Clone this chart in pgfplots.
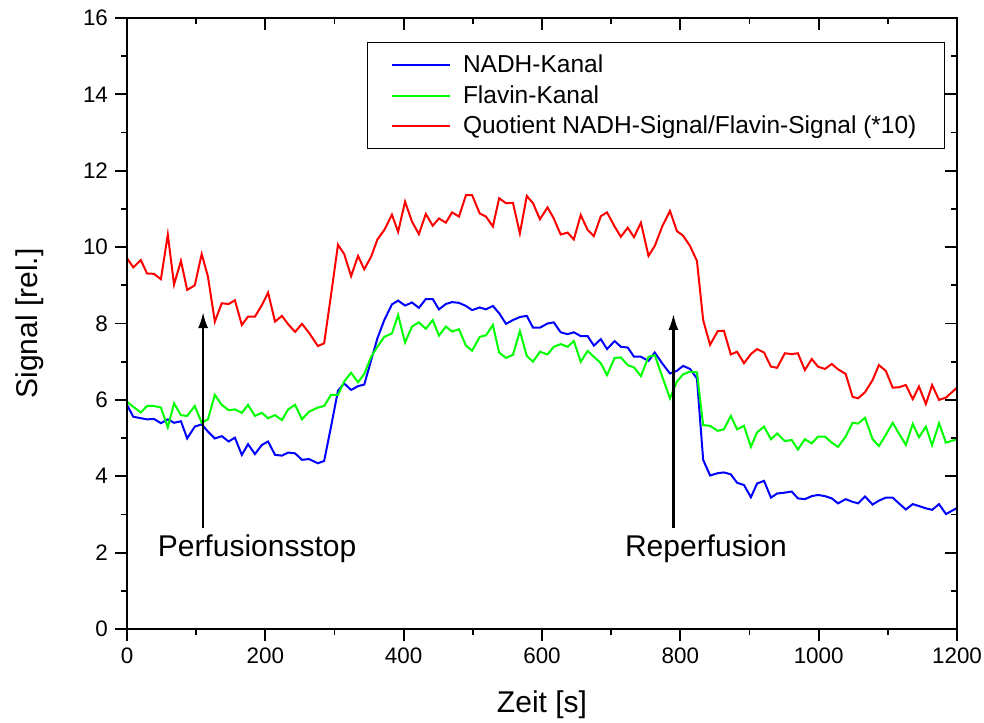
\documentclass[border=0pt]{standalone}
\usepackage{fontspec}
\setmainfont{Liberation Sans}
\usepackage{pgfplots}
\pgfplotsset{compat=1.18}
\usepackage{pgfplotstable}
\usetikzlibrary{arrows.meta}

\pgfplotstableread{
t v
0 5.87
9 5.56
20 5.52
29 5.49
39 5.50
49 5.39
59 5.49
68 5.40
78 5.44
87 4.99
98 5.30
108 5.36
117 5.17
127 4.99
137 5.05
147 4.91
156 5.01
166 4.56
175 4.84
185 4.58
195 4.82
204 4.91
214 4.56
224 4.54
233 4.62
243 4.60
253 4.43
263 4.45
276 4.34
285 4.40
295 5.30
305 6.24
314 6.43
324 6.26
334 6.36
343 6.40
353 7.04
362 7.61
372 8.09
383 8.50
392 8.60
402 8.47
412 8.55
422 8.41
432 8.64
442 8.64
451 8.37
461 8.51
470 8.56
480 8.54
490 8.46
499 8.35
510 8.42
519 8.37
529 8.46
538 8.27
548 7.99
558 8.09
568 8.17
578 8.20
587 7.89
597 7.89
608 8.00
617 8.03
627 7.77
637 7.72
646 7.77
656 7.67
666 7.67
675 7.42
685 7.59
694 7.33
705 7.54
714 7.39
724 7.37
733 7.13
743 7.13
754 7.02
763 7.24
774 6.95
785 6.69
795 6.76
804 6.89
814 6.81
824 6.56
833 4.43
843 4.02
854 4.08
863 4.10
873 4.05
882 3.83
892 3.77
902 3.45
911 3.81
921 3.88
931 3.44
940 3.55
951 3.57
961 3.60
970 3.42
980 3.40
990 3.48
999 3.51
1009 3.48
1019 3.42
1028 3.29
1039 3.40
1049 3.33
1057 3.29
1067 3.47
1078 3.26
1087 3.36
1097 3.44
1107 3.44
1116 3.29
1126 3.13
1136 3.27
1145 3.22
1155 3.16
1164 3.12
1174 3.27
1184 3.01
1200 3.17
}\nadh

\pgfplotstableread{
t v
0 5.95
9 5.82
20 5.67
29 5.84
39 5.84
49 5.80
59 5.28
68 5.91
78 5.60
87 5.58
98 5.84
108 5.40
117 5.49
127 6.13
137 5.87
147 5.73
156 5.75
166 5.66
175 5.87
185 5.58
195 5.66
204 5.52
214 5.60
224 5.47
233 5.75
243 5.87
253 5.49
263 5.69
276 5.80
285 5.84
295 6.13
305 6.13
314 6.48
324 6.71
334 6.46
343 6.68
353 7.13
362 7.39
372 7.65
383 7.74
392 8.22
402 7.50
412 7.92
422 8.03
432 7.86
442 8.09
451 7.68
461 7.92
470 7.79
480 7.85
490 7.42
499 7.29
510 7.65
519 7.69
529 7.96
538 7.24
548 7.10
558 7.18
568 7.80
578 7.15
587 7.00
597 7.26
608 7.19
617 7.39
627 7.46
637 7.39
646 7.54
656 7.00
666 7.28
675 7.13
685 6.96
694 6.65
705 7.10
714 7.11
724 6.91
733 6.85
743 6.62
754 7.13
763 7.17
774 6.60
785 6.04
795 6.48
804 6.67
814 6.74
824 6.72
833 5.34
843 5.32
854 5.19
863 5.23
873 5.58
882 5.23
892 5.32
902 4.77
911 5.15
921 5.30
931 4.97
940 5.12
951 4.92
961 4.95
970 4.70
980 4.97
990 4.86
999 5.04
1009 5.04
1019 4.88
1028 4.77
1039 5.04
1049 5.40
1057 5.38
1067 5.53
1078 4.97
1087 4.79
1097 5.08
1107 5.40
1116 5.12
1126 4.82
1136 5.37
1145 5.02
1155 5.30
1164 4.81
1174 5.39
1184 4.88
1200 4.97
}\flavin

\pgfplotstableread{
t v
0 9.71
9 9.47
20 9.66
29 9.31
39 9.30
49 9.16
59 10.33
68 9.02
78 9.64
87 8.88
98 9.00
108 9.82
117 9.23
127 8.05
137 8.53
147 8.51
156 8.61
166 7.96
175 8.18
185 8.18
195 8.48
204 8.81
214 8.05
224 8.20
233 7.98
243 7.78
253 7.99
263 7.76
276 7.41
285 7.48
295 8.75
305 10.06
314 9.82
324 9.24
334 9.77
343 9.42
353 9.75
362 10.20
372 10.45
383 10.85
392 10.40
402 11.19
412 10.67
422 10.34
432 10.87
442 10.56
451 10.75
461 10.64
470 10.91
480 10.80
490 11.36
499 11.36
510 10.88
519 10.80
529 10.54
538 11.28
548 11.15
558 11.16
568 10.36
578 11.34
587 11.15
597 10.73
608 11.04
617 10.75
627 10.33
637 10.38
646 10.20
656 10.84
666 10.45
675 10.29
685 10.81
694 10.91
705 10.54
714 10.27
724 10.51
733 10.26
743 10.64
754 9.77
763 10.03
774 10.55
785 10.95
795 10.42
804 10.30
814 10.03
824 9.64
833 8.09
843 7.44
854 7.80
863 7.81
873 7.19
882 7.26
892 6.96
902 7.20
911 7.33
921 7.24
931 6.87
940 6.84
951 7.22
961 7.20
970 7.22
980 6.78
990 7.07
999 6.87
1009 6.81
1019 6.94
1028 6.80
1039 6.68
1049 6.08
1057 6.04
1067 6.20
1078 6.52
1087 6.91
1097 6.76
1107 6.32
1116 6.33
1126 6.39
1136 6.02
1145 6.35
1155 5.89
1164 6.39
1174 6.00
1184 6.06
1200 6.32
}\quot

\begin{document}
\begin{tikzpicture}
\useasboundingbox (0,0) rectangle (492pt,361pt);
\pgfplotsset{
  common/.style={
    scale only axis, width=415pt, height=305.5pt,
    at={(63.5pt,46.5pt)}, anchor=south west,
    xmin=0, xmax=1200, ymin=0, ymax=16,
    xtick={0,200,...,1200}, ytick={0,2,...,16},
    minor x tick num=1, minor y tick num=1,
    major tick length=6pt, minor tick length=3pt,
    tick style={black, line width=0.9pt},
    axis line style={black, line width=1pt},
    /pgf/number format/assume math mode=true,
    /pgf/number format/1000 sep={},
    ticklabel style={font=\fontsize{11.2}{13}\selectfont},
  }
}
\begin{axis}[common,
  tick align=outside, xtick pos=left, ytick pos=left,
  xlabel={Zeit [s]}, ylabel={Signal [rel.]},
  label style={font=\fontsize{15}{18}\selectfont},
  xlabel style={at={(axis description cs:0.5,-0.1244)}, anchor=center},
  ylabel style={at={(axis description cs:-0.1169,0.5)}, anchor=center},
  legend style={at={(0.9855,0.9607)}, anchor=north east, draw=black, line width=0.5pt,
    font=\fontsize{12.25}{14}\selectfont, row sep=1.0pt, inner xsep=12pt, inner ysep=4pt},
  legend cell align=left,
  legend image code/.code={\draw[#1, line width=1pt] (0pt,0pt) -- (29pt,0pt); \path (33pt,0pt);},
]
\addplot[blue, line width=1pt] table[x=t, y=v] {\nadh};
\addlegendentry{NADH-Kanal}
\addplot[green, line width=1pt] table[x=t, y=v] {\flavin};
\addlegendentry{Flavin-Kanal}
\addplot[red, line width=1pt] table[x=t, y=v] {\quot};
\addlegendentry{Quotient NADH-Signal/Flavin-Signal (*10)}
\draw[-{Latex[length=8pt,width=5pt]}, line width=1.1pt] (axis cs:110,2.65) -- (axis cs:110,8.3);
\draw[-{Latex[length=8pt,width=5pt]}, line width=1.1pt] (axis cs:790,2.65) -- (axis cs:790,8.25);
\node[font=\fontsize{15}{18}\selectfont] at (axis cs:188,2.09) {Perfusionsstop};
\node[font=\fontsize{15}{18}\selectfont] at (axis cs:837,2.09) {Reperfusion};
\end{axis}
\begin{axis}[common,
  tick align=inside, xtick pos=right, ytick pos=right,
  xticklabels={}, yticklabels={},
]
\end{axis}
\end{tikzpicture}
\end{document}
